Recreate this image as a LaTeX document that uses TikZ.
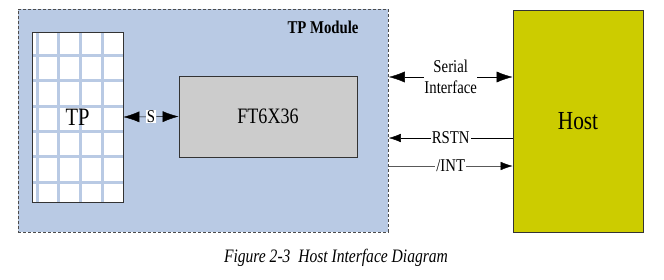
\documentclass[tikz,border=0pt]{standalone}
\usepackage{fontspec}
\setmainfont{Liberation Serif}[FakeStretch=0.82]
\usetikzlibrary{arrows.meta,positioning}

\definecolor{modblue}{HTML}{B9CAE4}
\definecolor{chipgray}{HTML}{CCCCCC}
\definecolor{hostyellow}{HTML}{CCCC00}

\begin{document}
\begin{tikzpicture}[x=1pt,y=-1pt,font=\fontsize{18}{21}\selectfont,
    big/.style={{Latex[length=16pt,width=11pt]}-{Latex[length=16pt,width=11pt]}},
    small/.style={-{Latex[length=12pt,width=8.5pt,color=black]}},
    box/.style={draw=black!80,line width=0.8pt,inner sep=0pt},
    lbl/.style={fill=white,inner sep=1pt}]
\useasboundingbox (0,0) rectangle (664,279);
% module frame
\node[box,draw=black!70,dashed,dash pattern=on 3pt off 2pt,fill=modblue,minimum width=370pt,minimum height=223pt,anchor=north west] (mod) at (18,9) {};
\node[font=\fontsize{18}{21}\selectfont\bfseries] (modname) at (323,27) {TP Module};
% touch panel with its sensor grid
\fill[white] (32,32) rectangle (123,202);
\foreach \x in {37,58,80,102}
  \draw[modblue,line width=3pt] (\x,32) -- (\x,202);
\foreach \y in {55,80,106,131,156,182}
  \draw[modblue,line width=3pt] (32,\y) -- (123,\y);
\node[box,minimum width=91pt,minimum height=170pt,font=\fontsize{25}{28}\selectfont] (tp) at (77.5,117) {TP};
% controller and host
\node[box,fill=chipgray,minimum width=178pt,minimum height=81pt,font=\fontsize{22}{25}\selectfont] (ft) at (268,116.5) {FT6X36};
\node[box,fill=hostyellow,minimum width=130pt,minimum height=222pt,font=\fontsize{26}{29}\selectfont] (host) at (578,121) {Host};
% links
\draw[big] (tp.east) -- node[lbl,inner sep=0.5pt]{S} (ft.west);
\draw[big] (mod.east |- 0,77) -- node[lbl,align=center,inner sep=0pt]{Serial\\Interface} (host.west |- 0,77);
\draw[small] (host.west |- 0,138) -- node[lbl]{RSTN} (mod.east |- 0,138);
\draw[small,black!65] (mod.east |- 0,166) -- node[lbl,text=black]{/INT} (host.west |- 0,166);
\node[font=\fontsize{19}{22}\selectfont\itshape] (cap) at (336,258) {Figure 2-3\ \ Host Interface Diagram};
\end{tikzpicture}
\end{document}
